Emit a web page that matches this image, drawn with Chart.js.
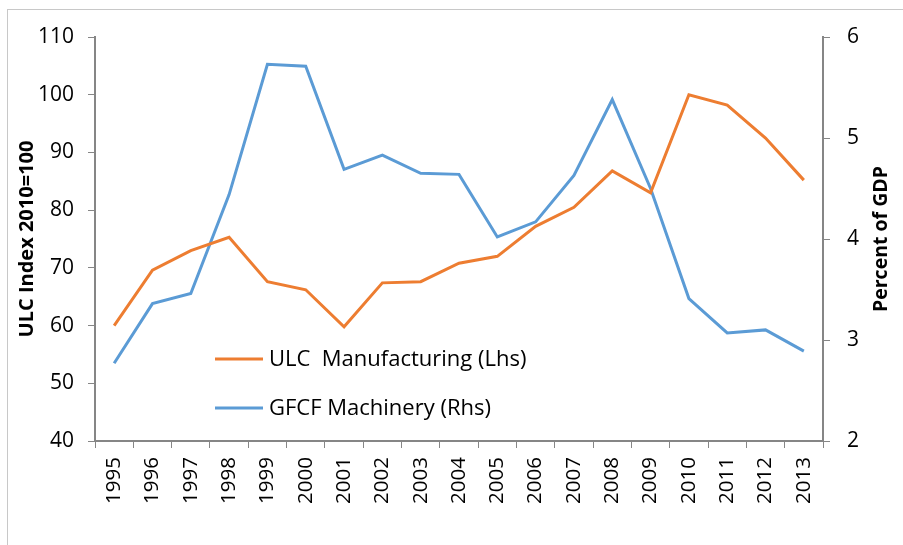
<!DOCTYPE html>
<html>
<head>
<meta charset="utf-8">
<script src="https://cdn.jsdelivr.net/npm/chart.js@4.4.1/dist/chart.umd.min.js"></script>
<style>
  html, body { margin: 0; padding: 0; background: #fff; }
  #wrap { position: relative; width: 903px; height: 545px; overflow: hidden; }
  #frame { position: absolute; left: 7px; top: 9px; width: 1000px; height: 1000px; border: 1px solid #c8c8c8; box-sizing: border-box; }
  canvas { position: absolute; left: 0; top: 0; }
</style>
</head>
<body>
<div id="wrap">
  <div id="frame"></div>
  <canvas id="c" width="903" height="545"></canvas>
</div>
<script>
const years = ['1995','1996','1997','1998','1999','2000','2001','2002','2003','2004','2005','2006','2007','2008','2009','2010','2011','2012','2013'];
const ulcManufacturing = [60.0, 69.6, 73.0, 75.3, 67.6, 66.2, 59.8, 67.4, 67.6, 70.8, 72.0, 77.2, 80.5, 86.8, 83.0, 100.0, 98.2, 92.5, 85.2];
const gfcfMachinery = [2.77, 3.36, 3.46, 4.44, 5.73, 5.71, 4.69, 4.83, 4.65, 4.64, 4.02, 4.17, 4.63, 5.38, 4.50, 3.41, 3.07, 3.10, 2.89];
const leftTicks = { min: 40, max: 110, step: 10 };
const rightTicks = { min: 2, max: 6, step: 1 };
const seriesLabels = ['ULC  Manufacturing (Lhs)', 'GFCF Machinery (Rhs)'];
const axisTitles = { left: 'ULC Index 2010=100', right: 'Percent of GDP' };

const FONT = '"Open Sans", sans-serif';
const AXIS = '#868686';

const decorations = {
  id: 'decorations',
  afterDraw(chart) {
    const ctx = chart.ctx;
    const a = chart.chartArea;
    const cy = (a.top + a.bottom) / 2;
    ctx.save();
    ctx.fillStyle = '#000';
    ctx.textAlign = 'center';
    ctx.textBaseline = 'middle';
    [[27, axisTitles.left, 20], [chart.width - 22, axisTitles.right, 19.5]].forEach(([x, t, sz]) => {
      ctx.save();
      ctx.font = 'bold ' + sz + 'px ' + FONT;
      ctx.translate(x, cy);
      ctx.rotate(-Math.PI / 2);
      ctx.fillText(t, 0, 0);
      ctx.restore();
    });
    const x0 = a.left + 120, lineLen = 48;
    const ys = [a.top + 322, a.top + 371];
    ctx.font = '22px ' + FONT;
    ctx.textAlign = 'left';
    chart.data.datasets.forEach((ds, i) => {
      ctx.strokeStyle = ds.borderColor;
      ctx.lineWidth = 3;
      ctx.beginPath();
      ctx.moveTo(x0, ys[i]);
      ctx.lineTo(x0 + lineLen, ys[i]);
      ctx.stroke();
      ctx.fillStyle = '#000';
      ctx.fillText(ds.label, x0 + lineLen + 6, ys[i] + 1);
    });
    ctx.restore();
  }
};

new Chart(document.getElementById('c'), {
  type: 'line',
  data: {
    labels: years,
    datasets: [
      { label: seriesLabels[0], data: ulcManufacturing, yAxisID: 'yL', borderColor: '#ED7D31', borderWidth: 3, pointRadius: 0, tension: 0, fill: false },
      { label: seriesLabels[1], data: gfcfMachinery, yAxisID: 'yR', borderColor: '#5B9BD5', borderWidth: 3, pointRadius: 0, tension: 0, fill: false }
    ]
  },
  options: {
    responsive: false,
    animation: false,
    layout: { padding: { top: 37, left: 0, right: 0, bottom: 0 } },
    plugins: { legend: { display: false }, tooltip: { enabled: false } },
    scales: {
      x: {
        offset: true,
        grid: { offset: true, drawOnChartArea: false, color: AXIS, tickLength: 7, tickColor: AXIS },
        border: { color: AXIS, width: 2 },
        ticks: { color: '#000', font: { family: FONT, size: 20.5 }, maxRotation: 90, minRotation: 90, padding: 9, autoSkip: false },
        afterFit(s) { s.height = 104; }
      },
      yL: {
        position: 'left',
        min: leftTicks.min, max: leftTicks.max,
        ticks: { stepSize: leftTicks.step, color: '#000', font: { family: FONT, size: 21 }, padding: 14 },
        grid: { drawOnChartArea: false, color: AXIS, tickLength: 7, tickColor: AXIS },
        border: { color: AXIS, width: 2 },
        afterFit(s) { s.width = 95; }
      },
      yR: {
        position: 'right',
        min: rightTicks.min, max: rightTicks.max,
        ticks: { stepSize: rightTicks.step, color: '#000', font: { family: FONT, size: 21 }, padding: 17 },
        grid: { drawOnChartArea: false, color: AXIS, tickLength: 7, tickColor: AXIS },
        border: { color: AXIS, width: 2 },
        afterFit(s) { s.width = 80; }
      }
    }
  },
  plugins: [decorations]
});
</script>
</body>
</html>
